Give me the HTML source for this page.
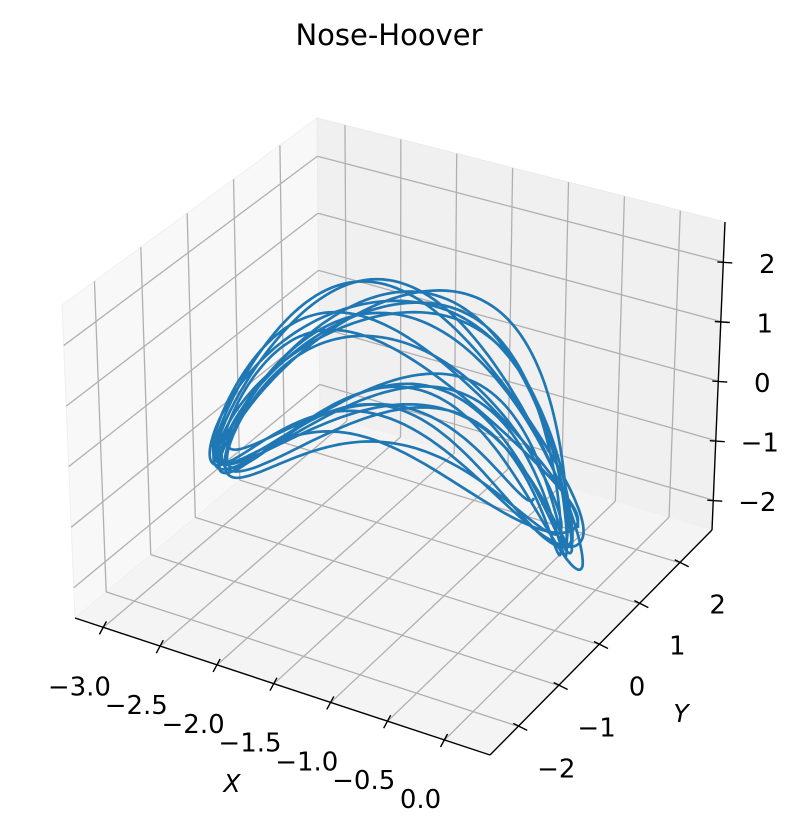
<!DOCTYPE html>
<html><head><meta charset="utf-8"><style>
html,body{margin:0;padding:0;background:#fff;}
svg text{font-family:"DejaVu Sans","Liberation Sans",sans-serif;}
</style></head><body>
<svg id="chart" width="807" height="832" viewBox="0 0 807 832" xmlns="http://www.w3.org/2000/svg">
<text x="389" y="45" font-size="29" text-anchor="middle" fill="#000">Nose-Hoover</text>
<g id="panes"></g>
<g id="grid"></g>
<g id="curve"></g>
<g id="axes"></g>
<text x="232" y="792" font-size="25" font-style="italic" text-anchor="middle">X</text>
<text x="681" y="722" font-size="25" font-style="italic" text-anchor="middle">Y</text>
</svg>
<script>
const xTicks=[-3.0,-2.5,-2.0,-1.5,-1.0,-0.5,0.0];
const xTickLabels=["\u22123.0","\u22122.5","\u22122.0","\u22121.5","\u22121.0","\u22120.5","0.0"];
const yTicks=[-2,-1,0,1,2];
const yTickLabels=["\u22122","\u22121","0","1","2"];
const zTicks=[-2,-1,0,1,2];
const zTickLabels=["\u22122","\u22121","0","1","2"];
// loop parameters
const loopXLeft =[-2.95,-2.85,-3.0,-2.8,-2.9,-2.75,-2.95,-2.8,-2.9,-2.7,-2.85,-2.7];
const loopXRight=[-0.1,-0.15,-0.05,-0.2,-0.1,-0.25,-0.15,-0.2,-0.05,-0.25,-0.15,-0.5];
const loopZEnd  =[-1.4,-1.7,-1.5,-1.9,-1.3,-1.9,-1.6,-1.7,-2.0,-1.5,-1.8,-1.1];
const loopZTop  =[1.2,0.8,1.4,0.7,1.1,0.6,1.3,0.8,1.0,0.7,1.1,0.5];
const loopY     =[-1.0,0.6,-0.5,1.1,-1.3,0.9,-0.2,1.3,0.3,-0.8,1.0,0.0];
const loopR     =[0.6,0.45,0.7,0.4,0.55,0.45,0.65,0.4,0.5,0.5,0.45,0.35];
const loopSkew  =[0.35,-0.25,0.4,-0.2,0.3,-0.3,0.35,-0.2,0.3,-0.25,0.3,0.0];
const endYLeft=-0.4, endYRight=0.8;

const X0=-3.25,X1=0.4,Y0=-2.7,Y1=2.8,Z0=-2.5,Z1=2.67;
const C={
 '000':[75,618],'100':[490,755],'010':[320,413],'110':[712,530],
 '001':[62,305],'101':[490,425],'011':[317,118],'111':[725,222]};
function P(x,y,z){
 const t=(x-X0)/(X1-X0),u=(y-Y0)/(Y1-Y0),w=(z-Z0)/(Z1-Z0);
 let sx=0,sy=0;
 for(const k in C){const a=+k[0],b=+k[1],c=+k[2];
  const f=(a?t:1-t)*(b?u:1-u)*(c?w:1-w);sx+=f*C[k][0];sy+=f*C[k][1];}
 return [sx,sy];
}
const NS='http://www.w3.org/2000/svg';
function mk(tag,attrs,parent){const e=document.createElementNS(NS,tag);for(const k in attrs)e.setAttribute(k,attrs[k]);parent.appendChild(e);return e;}
function poly(pts){return pts.map(p=>p[0].toFixed(1)+','+p[1].toFixed(1)).join(' ');}
const panes=document.getElementById('panes');
let e;
e=mk('polygon',{points:poly([P(X0,Y0,Z0),P(X0,Y1,Z0),P(X0,Y1,Z1),P(X0,Y0,Z1)]),fill:'#f8f8f8',stroke:'#f0f0f0'},panes);


e=mk('polygon',{points:poly([P(X0,Y1,Z0),P(X1,Y1,Z0),P(X1,Y1,Z1),P(X0,Y1,Z1)]),fill:'#f0f0f0',stroke:'#ebebeb'},panes);


e=mk('polygon',{points:poly([P(X0,Y0,Z0),P(X1,Y0,Z0),P(X1,Y1,Z0),P(X0,Y1,Z0)]),fill:'#f4f4f4',stroke:'#f0f0f0'},panes);



const grid=document.getElementById('grid');
function gl(a,b,name){const l=mk('line',{x1:a[0],y1:a[1],x2:b[0],y2:b[1],stroke:'#b0b0b0','stroke-width':1.3},grid);
 
 }
xTicks.forEach(x=>{gl(P(x,Y0,Z0),P(x,Y1,Z0),'floor-x-grid');gl(P(x,Y1,Z0),P(x,Y1,Z1),'back-x-grid');});
yTicks.forEach(y=>{gl(P(X0,y,Z0),P(X1,y,Z0),'floor-y-grid');gl(P(X0,y,Z0),P(X0,y,Z1),'left-y-grid');});
zTicks.forEach(z=>{gl(P(X0,Y0,z),P(X0,Y1,z),'left-z-grid');gl(P(X0,Y1,z),P(X1,Y1,z),'back-z-grid');});

const N=loopY.length,steps=180;let pts=[];
for(let k=0;k<N-1;k++){
 for(let i=0;i<steps;i++){
  const f=i/steps,th=2*Math.PI*f;
  const m=(A)=>A[k]*(1-f)+A[k+1]*f;
  const xl=m(loopXLeft),xr=m(loopXRight),ze=m(loopZEnd),zt=m(loopZTop),yc=m(loopY),r=m(loopR),sk=m(loopSkew);
  const s=Math.cos(th);
  const x=(xl+xr)/2+(xr-xl)/2*s;
  const rr=r*(1+0.5*s*s-0.4*s);
  const zEndHere=ze+0.4*(1-s);
  const z=zEndHere+(zt-zEndHere)*(1-s*s)*(1-sk*s)+1.3*rr*Math.sin(th);
  const yEnd=endYLeft*(1-s)/2+endYRight*(1+s)/2;
  const y=yEnd+yc*(1-s*s)+0.45*rr*Math.sin(th);
  pts.push(P(x,y,z));
 }
}
const path=mk('polyline',{points:poly(pts),fill:'none',stroke:'#1f77b4','stroke-width':2.7,'stroke-linejoin':'round'},document.getElementById('curve'));



const ax=document.getElementById('axes');
function al(a,b,name){const l=mk('line',{x1:a[0],y1:a[1],x2:b[0],y2:b[1],stroke:'#000','stroke-width':1.4},ax);
 
 }
function tx(p,s,name){const t=mk('text',{x:p[0].toFixed(1),y:p[1].toFixed(1),'font-size':26,'text-anchor':'middle',fill:'#000'},ax);t.textContent=s;
 
 }
al(P(X0,Y0,Z0),P(X1,Y0,Z0),'x-axis-line');
al(P(X1,Y0,Z0),P(X1,Y1,Z0),'y-axis-line');
al(P(X1,Y1,Z0),P(X1,Y1,Z1),'z-axis-line');
xTicks.forEach((x,i)=>{const p=P(x,Y0,Z0);al([p[0]+3,p[1]-6],[p[0]-4,p[1]+7],'x-tick');tx([p[0]-24,p[1]+68],xTickLabels[i],'x-tick-label');});
yTicks.forEach((y,i)=>{const p=P(X1,y,Z0);al([p[0]-5,p[1]-3],[p[0]+9,p[1]+4],'y-tick');tx([p[0]+38,p[1]+51],yTickLabels[i],'y-tick-label');});
zTicks.forEach((z,i)=>{const p=P(X1,Y1,z);al([p[0]-6,p[1]],[p[0]+9,p[1]+1],'z-tick');tx([p[0]+44,p[1]+11],zTickLabels[i],'z-tick-label');});
</script>
</body></html>
